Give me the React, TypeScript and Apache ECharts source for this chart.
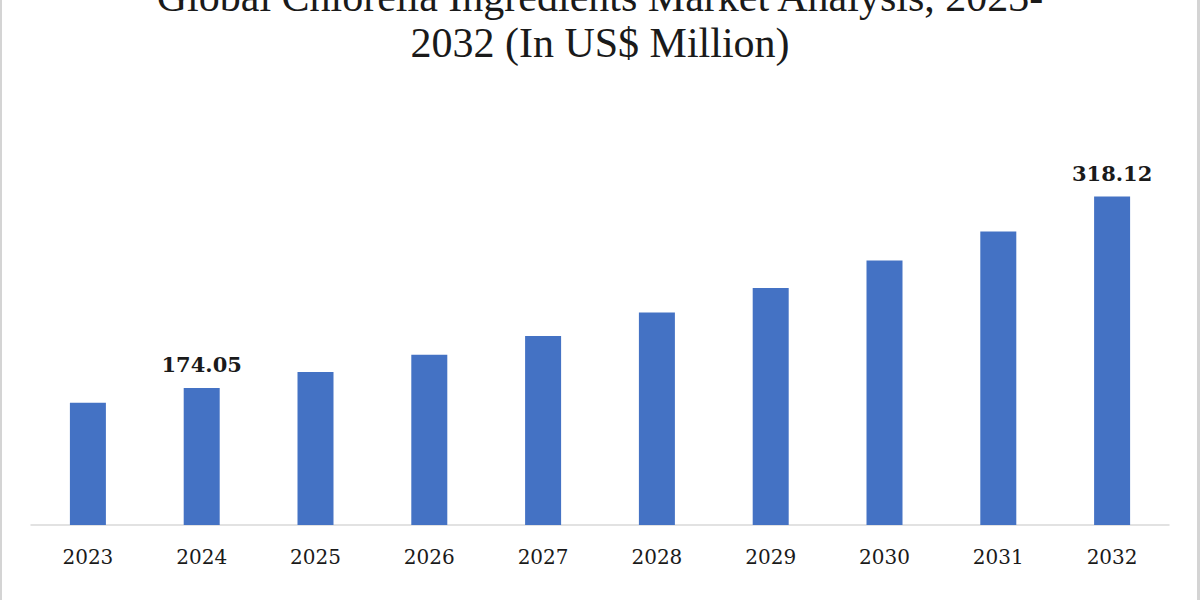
import React, { useEffect, useRef } from "react";
import * as echarts from "echarts";

const years = ["2023", "2024", "2025", "2026", "2027", "2028", "2029", "2030", "2031", "2032"];
const values = [163.0, 174.05, 186.1, 199.1, 213.2, 230.9, 249.3, 270.0, 291.8, 318.12];
const labelledYears = ["2024", "2032"];
const titleText = "Global Chlorella Ingredients Market Analysis, 2023-\n2032 (In US$ Million)";

export default function App() {
  const ref = useRef<HTMLDivElement>(null);
  useEffect(() => {
    if (!ref.current) return;
    const chart = echarts.init(ref.current, null, { renderer: "svg" });
    chart.setOption({
      animation: false,
      backgroundColor: "#ffffff",
      title: {
        text: titleText,
        left: "center",
        top: -31,
        textStyle: {
          fontFamily: "Liberation Serif",
          fontWeight: "normal",
          fontSize: 42,
          lineHeight: 46,
          color: "#1a1a1a",
        },
      },
      grid: { left: 31, right: 31, top: 101, bottom: 75 },
      xAxis: {
        type: "category",
        data: years,
        axisLine: { show: true, lineStyle: { color: "#d9d9d9", width: 1.5 } },
        axisTick: { show: false },
        axisLabel: {
          margin: 22,
          fontFamily: "DejaVu Serif",
          fontSize: 20,
          color: "#1a1a1a",
        },
      },
      yAxis: {
        type: "value",
        min: 71,
        max: 390,
        show: false,
        splitLine: { show: false },
      },
      graphic: [
        { type: "rect", shape: { x: 0, y: 0, width: 2, height: 600 }, style: { fill: "#d4d4d4" } },
        { type: "rect", shape: { x: 1197, y: 0, width: 3, height: 600 }, style: { fill: "#d4d4d4" } },
      ],
      series: [
        {
          type: "bar",
          barWidth: 36,
          itemStyle: { color: "#4472C4" },
          data: values.map((v, i) => ({
            value: v,
            label: {
              show: labelledYears.includes(years[i]),
              position: "top",
              distance: 13,
              formatter: (p: any) => p.value.toFixed(2),
              fontFamily: "DejaVu Serif",
              fontWeight: "bold",
              fontSize: 21,
              color: "#1a1a1a",
            },
          })),
        },
      ],
    });
    return () => chart.dispose();
  }, []);
  return (
    <div
      ref={ref}
      style={{ position: "fixed", left: 0, top: 0, width: 1200, height: 600 }}
    />
  );
}
